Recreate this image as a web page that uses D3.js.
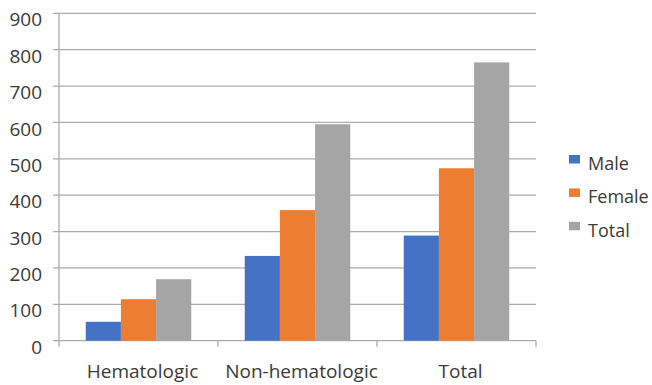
<!DOCTYPE html>
<html>
<head>
<meta charset="utf-8">
<script src="https://cdn.jsdelivr.net/npm/d3@7"></script>
<style>
  body { margin: 0; background: #fff; }
  svg text { font-family: "Open Sans", "Noto Sans", sans-serif; fill: #3a3a3a; }
</style>
</head>
<body>
<div id="chart"></div>
<script>
const categories = ["Hematologic", "Non-hematologic", "Total"];
const seriesNames = ["Male", "Female", "Total"];
const male = [52, 233, 289];
const female = [114, 359, 474];
const total = [169, 595, 765];
const yTicks = [0, 100, 200, 300, 400, 500, 600, 700, 800, 900];
const colors = ["#4472C4", "#ED7D31", "#A5A5A5"];

const width = 652, height = 385;
const margin = {left: 59, right: 116, top: 13.3, bottom: 44.3};

const svg = d3.select("#chart").append("svg")
    .attr("width", width)
    .attr("height", height);

const x0 = d3.scaleBand()
    .domain(categories)
    .range([margin.left, width - margin.right])
    .paddingInner(0)
    .paddingOuter(0);

const x1 = d3.scaleBand()
    .domain(seriesNames)
    .range([0, x0.bandwidth()])
    .paddingOuter(0.76)
    .paddingInner(0);

const y = d3.scaleLinear()
    .domain([0, 900])
    .range([height - margin.bottom, margin.top]);

// gridlines
svg.append("g")
    .selectAll("line")
    .data(yTicks)
    .join("line")
    .attr("x1", margin.left - 6)
    .attr("x2", width - margin.right)
    .attr("y1", d => y(d))
    .attr("y2", d => y(d))
    .attr("stroke", "#ababab")
    .attr("stroke-width", 1.3);

// y axis line
svg.append("line")
    .attr("x1", margin.left).attr("x2", margin.left)
    .attr("y1", y(900)).attr("y2", y(0) + 6)
    .attr("stroke", "#ababab").attr("stroke-width", 1.3);

// x ticks at category boundaries
const bounds = categories.map(c => x0(c)).concat([x0(categories[2]) + x0.bandwidth()]);
svg.append("g")
    .selectAll("line")
    .data(bounds.slice(1))
    .join("line")
    .attr("x1", d => d).attr("x2", d => d)
    .attr("y1", y(0)).attr("y2", y(0) + 6)
    .attr("stroke", "#ababab").attr("stroke-width", 1.3);

// y labels
svg.append("g")
    .selectAll("text")
    .data(yTicks)
    .join("text")
    .attr("x", 42)
    .attr("y", d => y(d) + 6.5)
    .attr("dy", "0.35em")
    .attr("text-anchor", "end")
    .attr("font-size", "19px")
    .text(d => d);

// bars
const rows = categories.map((c, i) => ({cat: c, vals: [male[i], female[i], total[i]]}));
const groups = svg.append("g")
    .selectAll("g")
    .data(rows)
    .join("g")
    .attr("transform", d => `translate(${x0(d.cat)},0)`);

groups.selectAll("rect")
    .data(d => d.vals.map((v, j) => ({name: seriesNames[j], v: v, j: j})))
    .join("rect")
    .attr("x", d => x1(d.name))
    .attr("width", x1.bandwidth())
    .attr("y", d => y(d.v))
    .attr("height", d => y(0) - y(d.v))
    .attr("fill", d => colors[d.j]);

// category labels
svg.append("g")
    .selectAll("text")
    .data(categories)
    .join("text")
    .attr("x", d => x0(d) + x0.bandwidth() / 2 + 4)
    .attr("y", 377.5)
    .attr("text-anchor", "middle")
    .attr("font-size", "19px")
    .text(d => d);

// legend
const legend = svg.append("g")
    .selectAll("g")
    .data(seriesNames)
    .join("g")
    .attr("transform", (d, i) => `translate(569,${170 + i * 33.4})`);

legend.append("rect")
    .attr("x", 0).attr("y", -15)
    .attr("width", 11).attr("height", 8.5)
    .attr("fill", (d, i) => colors[i]);

legend.append("text")
    .attr("x", 19)
    .attr("y", 0)
    .attr("font-size", "18px")
    .text(d => d);
</script>
</body>
</html>
